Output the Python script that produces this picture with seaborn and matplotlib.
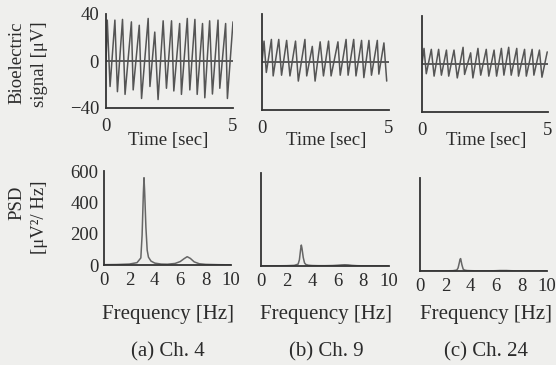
import matplotlib
matplotlib.use('Agg')
import matplotlib.pyplot as plt
import seaborn as sns
import pandas as pd

# %%
# bioelectric signal: peak / trough times [sec] and values [uV]
a_peak_t = [0.05, 0.35, 0.65, 1.00, 1.31, 1.66, 1.92, 2.25, 2.58, 2.90, 3.20, 3.50, 3.80, 4.08, 4.41, 4.71, 5.00]
a_peak_v = [34.8, 34.8, 35.4, 33.3, 30.4, 36.2, 24.6, 34.2, 34.2, 31.9, 36.2, 35.4, 31.9, 34.2, 34.8, 31.9, 33.3]
a_trough_t = [0.16, 0.45, 0.75, 1.07, 1.40, 1.73, 2.05, 2.38, 2.67, 2.97, 3.30, 3.59, 3.89, 4.19, 4.48, 4.78]
a_trough_v = [-21.7, -26.1, -28.4, -24.6, -31.9, -21.7, -32.8, -23.2, -25.5, -28.4, -24.6, -28.4, -31.3, -28.1, -23.2, -31.9]

b_peak_t = [0.08, 0.37, 0.66, 0.97, 1.32, 1.69, 1.98, 2.29, 2.62, 2.99, 3.31, 3.61, 3.92, 4.21, 4.54, 4.80]
b_peak_v = [17.4, 18.8, 18.8, 18.0, 17.4, 18.8, 13.0, 16.8, 17.4, 16.8, 18.8, 18.8, 18.0, 18.0, 18.0, 15.9]
b_trough_t = [0.17, 0.44, 0.77, 1.10, 1.43, 1.76, 2.09, 2.42, 2.72, 3.08, 3.39, 3.70, 4.01, 4.31, 4.60, 4.91]
b_trough_v = [-8.7, -11.6, -11.0, -11.6, -15.9, -11.6, -15.9, -11.6, -11.6, -11.0, -11.0, -11.6, -13.0, -11.0, -10.1, -15.9]

c_peak_t = [0.08, 0.37, 0.66, 0.97, 1.27, 1.63, 1.93, 2.22, 2.55, 2.86, 3.15, 3.44, 3.76, 4.07, 4.37, 4.66, 4.97]
c_peak_v = [13.0, 12.2, 12.2, 11.6, 11.6, 13.9, 9.3, 13.0, 12.2, 11.6, 13.0, 13.9, 13.0, 12.2, 12.2, 11.6, 10.1]
c_trough_t = [0.17, 0.48, 0.77, 1.06, 1.40, 1.69, 2.02, 2.33, 2.65, 2.96, 3.25, 3.54, 3.83, 4.14, 4.44, 4.76]
c_trough_v = [-8.1, -10.1, -9.3, -10.1, -11.6, -8.7, -11.6, -9.3, -10.1, -10.1, -9.3, -9.3, -10.1, -10.1, -9.3, -11.0]

# PSD [uV^2/Hz]
freqs = [0, 1, 2, 2.6, 2.9, 3.0, 3.1, 3.15, 3.2, 3.3, 3.4, 3.5, 3.7, 4.0, 4.5, 5.0, 5.6, 6.0, 6.3, 6.55, 6.8, 7.1, 7.5, 8.0, 9.0, 10.0]
psd_a = [2, 3, 6, 15, 45, 190, 460, 557, 470, 240, 95, 50, 25, 12, 6, 5, 10, 22, 40, 53, 42, 20, 8, 4, 2, 1]
psd_b = [1, 1, 2, 4, 12, 40, 110, 135, 115, 55, 20, 10, 5, 3, 2, 2, 3, 5, 7, 8, 7, 4, 2, 1, 1, 1]
psd_c = [1, 1, 1, 2, 6, 20, 55, 75, 80, 40, 12, 6, 3, 2, 1, 1, 1, 2, 3, 3, 3, 2, 1, 1, 1, 1]

captions = ['(a) Ch. 4', '(b) Ch. 9', '(c) Ch. 24']

# %%
def zigzag(pt, pv, tt, tv):
    t = [0.0]
    v = [0.0]
    for i in range(len(pt)):
        t.append(pt[i]); v.append(pv[i])
        if i < len(tt):
            t.append(tt[i]); v.append(tv[i])
    return pd.DataFrame({'t': t, 'v': v})

signals = [zigzag(a_peak_t, a_peak_v, a_trough_t, a_trough_v),
           zigzag(b_peak_t, b_peak_v, b_trough_t, b_trough_v),
           zigzag(c_peak_t, c_peak_v, c_trough_t, c_trough_v)]
psds = [pd.DataFrame({'f': freqs, 'p': p}) for p in (psd_a, psd_b, psd_c)]

sns.set_style('white')
plt.rcParams['font.family'] = ['Liberation Serif', 'DejaVu Serif']
plt.rcParams['font.size'] = 13.5
ink = '#2b2b2b'
plt.rcParams['text.color'] = ink
plt.rcParams['xtick.color'] = ink
plt.rcParams['ytick.color'] = ink

W, H = 556, 365
fig = plt.figure(figsize=(W / 100, H / 100), dpi=100, facecolor='#efefed')

def px(l, t, r, b):
    return [l / W, 1 - b / H, (r - l) / W, (b - t) / H]

top_boxes = [(106, 14, 233, 108), (262, 14, 389, 110), (422, 16, 548, 112)]
bot_boxes = [(104, 171, 231, 265), (261, 173, 389, 266), (420, 178, 547, 271)]
centers = [168, 326, 486]

for i in range(3):
    ax = fig.add_axes(px(*top_boxes[i]))
    ax.set_facecolor('none')
    sns.lineplot(data=signals[i], x='t', y='v', ax=ax, color='#555555',
                 linewidth=1.1, estimator=None, sort=False)
    ax.axhline(0, color='#333333', linewidth=1.1, zorder=0)
    ax.set_xlim(0, 5)
    ax.set_ylim(-40, 40)
    ax.set_xticks([0, 5])
    ax.set_yticks([-40, 0, 40])
    ax.tick_params(length=0, pad=7)
    ax.tick_params(axis='y', pad=5)
    if i > 0:
        ax.set_yticklabels([])
    ax.set_xlabel('')
    ax.set_ylabel('')
    sns.despine(ax=ax)
    for s in ('left', 'bottom'):
        ax.spines[s].set_color('#333333')
        ax.spines[s].set_linewidth(1.3)
    fig.text(centers[i] / W, 1 - 140 / H, 'Time [sec]', ha='center', va='center')

    ax2 = fig.add_axes(px(*bot_boxes[i]))
    ax2.set_facecolor('none')
    sns.lineplot(data=psds[i], x='f', y='p', ax=ax2, color='#666666',
                 linewidth=1.1, estimator=None)
    ax2.set_xlim(0, 10)
    ax2.set_ylim(0, 600)
    ax2.set_xticks([0, 2, 4, 6, 8, 10])
    ax2.set_yticks([0, 200, 400, 600])
    ax2.tick_params(direction='in', length=2.5, width=1.2, color='#444444')
    ax2.tick_params(axis='x', pad=5)
    ax2.tick_params(axis='y', pad=4)
    if i > 0:
        ax2.set_yticklabels([])
    ax2.set_xlabel('')
    ax2.set_ylabel('')
    sns.despine(ax=ax2)
    for s in ('left', 'bottom'):
        ax2.spines[s].set_color('#333333')
        ax2.spines[s].set_linewidth(1.3)
    fig.text(centers[i] / W, 1 - 315 / H, 'Frequency [Hz]', ha='center', va='center', fontsize=15)
    fig.text(centers[i] / W, 1 - 352 / H, captions[i], ha='center', va='center', fontsize=15)

fig.text(17 / W, 1 - 63 / H, 'Bioelectric', rotation=90, ha='center', va='center')
fig.text(40 / W, 1 - 64 / H, 'signal [μV]', rotation=90, ha='center', va='center')
fig.text(17 / W, 1 - 203 / H, 'PSD', rotation=90, ha='center', va='center')
fig.text(40 / W, 1 - 217 / H, '[μV²/ Hz]', rotation=90, ha='center', va='center')

fig.savefig('out.png', dpi=100, facecolor=fig.get_facecolor())
